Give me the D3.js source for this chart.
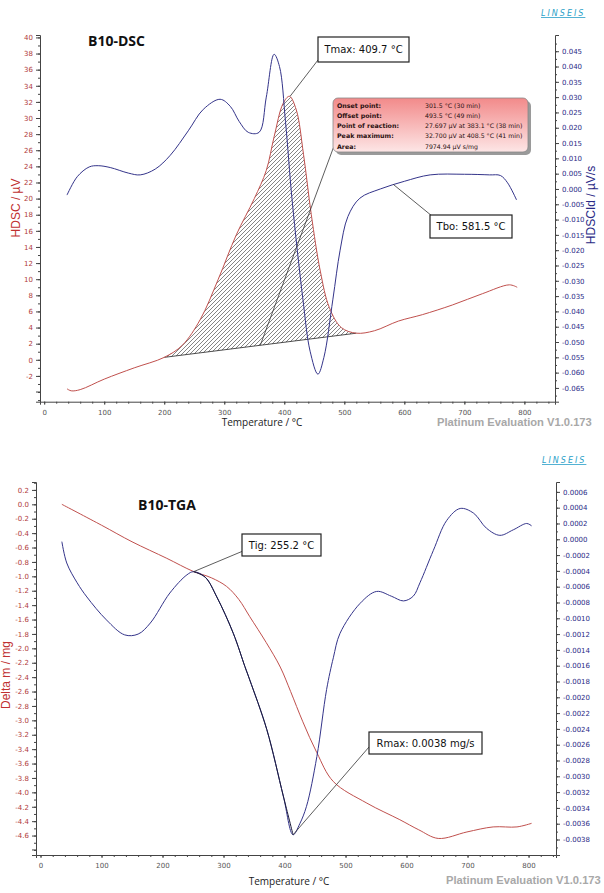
<!DOCTYPE html>
<html>
<head>
<meta charset="utf-8">
<script src="https://cdn.jsdelivr.net/npm/d3@7"></script>
<style>
  body { margin: 0; background: #fff; }
  svg text { font-family: "DejaVu Sans", sans-serif; }
</style>
</head>
<body>
<svg id="chart" width="604" height="893"></svg>
<script>
// ---- DSC panel data ----
const dscRedT = [38, 45, 60, 100, 150, 200, 230, 260, 290, 320, 350, 370, 383.1, 398, 408.5, 420, 432, 445, 460, 475, 495, 520, 550, 590, 630, 680, 730, 775, 788];
const dscRedV = [-3.6, -3.85, -3.7, -2.4, -1.0, 0.3, 1.8, 5.0, 10.0, 15.5, 20.0, 23.5, 27.7, 31.8, 32.7, 31.0, 25.5, 18.0, 11.0, 6.5, 4.0, 3.3, 3.6, 4.8, 5.6, 6.8, 8.2, 9.3, 9.0];
const dscBlueT = [38, 55, 75, 90, 110, 140, 160, 185, 210, 240, 265, 293, 310, 325, 340, 358, 370, 383, 392, 402, 413, 431, 443, 456, 466, 481, 493, 506, 526, 560, 600, 643, 700, 742, 760, 772, 787];
const dscBlueV = [-0.002, 0.004, 0.0072, 0.0076, 0.007, 0.0052, 0.0046, 0.0065, 0.011, 0.019, 0.026, 0.0293, 0.027, 0.022, 0.0185, 0.0185, 0.030, 0.044, 0.040, 0.022, -0.0036, -0.036, -0.053, -0.0605, -0.055, -0.036, -0.020, -0.009, -0.003, 0.0, 0.0025, 0.0046, 0.0048, 0.0046, 0.0044, 0.002, -0.0036];
const dscBaselineT = [200, 520];
const dscLeftTicks = [-2, 0, 2, 4, 6, 8, 10, 12, 14, 16, 18, 20, 22, 24, 26, 28, 30, 32, 34, 36, 38, 40];
const dscRightTicks = [-0.065, -0.060, -0.055, -0.050, -0.045, -0.040, -0.035, -0.030, -0.025, -0.020, -0.015, -0.010, -0.005, 0.000, 0.005, 0.010, 0.015, 0.020, 0.025, 0.030, 0.035, 0.040, 0.045];
const dscInfoLabels = ["Onset point:", "Offset point:", "Point of reaction:", "Peak maximum:", "Area:"];
const dscInfoValues = ["301.5 °C (30 min)", "493.5 °C (49 min)", "27.697 µV at 383.1 °C (38 min)", "32.700 µV at 408.5 °C (41 min)", "7974.94 µV s/mg"];
const tmax = 409.7, tbo = 581.5;

// ---- TGA panel data ----
const tgaRedT = [35, 100, 150, 207, 250, 280, 305, 325, 343, 370, 393, 410, 430, 453, 480, 535, 589, 620, 652, 699, 742, 781, 805];
const tgaRedV = [0.0, -0.29, -0.52, -0.75, -0.93, -1.02, -1.14, -1.32, -1.56, -1.92, -2.26, -2.6, -3.02, -3.45, -3.85, -4.15, -4.38, -4.52, -4.64, -4.55, -4.48, -4.48, -4.43];
const tgaBlueT = [35, 43, 60, 76, 108, 138, 160, 180, 212, 240, 251, 270, 289, 316, 335, 343, 371, 398, 414, 425, 436, 453, 469, 480, 491, 524, 551, 575, 595, 611, 622, 644, 666, 688, 710, 731, 753, 775, 797, 805];
const tgaBlueV = [-0.00003, -0.0003, -0.00055, -0.00073, -0.00102, -0.00121, -0.0012, -0.00106, -0.00068, -0.00045, -0.00041, -0.00048, -0.00073, -0.00119, -0.00161, -0.00178, -0.00241, -0.00325, -0.00374, -0.0036, -0.00338, -0.00275, -0.0019, -0.0015, -0.00119, -0.00081, -0.00066, -0.00072, -0.00078, -0.00072, -0.00055, -0.00014, 0.00024, 0.00039, 0.00033, 0.00014, 0.00005, 0.00012, 0.0002, 0.00017];
const tgaLeftTicks = [0.2, 0.0, -0.2, -0.4, -0.6, -0.8, -1.0, -1.2, -1.4, -1.6, -1.8, -2.0, -2.2, -2.4, -2.6, -2.8, -3.0, -3.2, -3.4, -3.6, -3.8, -4.0, -4.2, -4.4, -4.6];
const tgaRightTicks = [0.0006, 0.0004, 0.0002, 0.0000, -0.0002, -0.0004, -0.0006, -0.0008, -0.0010, -0.0012, -0.0014, -0.0016, -0.0018, -0.0020, -0.0022, -0.0024, -0.0026, -0.0028, -0.0030, -0.0032, -0.0034, -0.0036, -0.0038];
const tig = 255.2, rmaxT = 414, rmaxLabel = "Rmax: 0.0038 mg/s";

const xTicks = [0, 100, 200, 300, 400, 500, 600, 700, 800];

const svg = d3.select("#chart");
const navy = "#34348a";

const defs = svg.append("defs");
defs.append("pattern")
  .attr("id", "hatch")
  .attr("patternUnits", "userSpaceOnUse")
  .attr("width", 4).attr("height", 4)
  .append("path")
  .attr("d", "M-1,1 l2,-2 M0,4 l4,-4 M3,5 l2,-2")
  .attr("stroke", "#333").attr("stroke-width", 0.6);

const grad = defs.append("linearGradient").attr("id", "infoGrad")
  .attr("x1", 0).attr("y1", 0).attr("x2", 0).attr("y2", 1);
grad.append("stop").attr("offset", "0%").attr("stop-color", "#f28a8a");
grad.append("stop").attr("offset", "100%").attr("stop-color", "#fde6e6");

function zip(ts, vs) { return ts.map((t, i) => ({ t: t, v: vs[i] })); }

// draws the frame of one panel: left axis, right axis, bottom axis
function drawFrame(g, x, yL, yR, o) {
  const bottom = yL.range()[0];
  // minor ticks
  g.append("g").attr("transform", "translate(" + x.range()[0] + ",0)")
    .call(d3.axisLeft(yL).tickValues(o.leftMinor).tickSize(2).tickFormat(""))
    .call(s => s.select(".domain").remove());
  g.append("g").attr("transform", "translate(" + x.range()[1] + ",0)")
    .call(d3.axisRight(yR).tickValues(o.rightMinor).tickSize(2).tickFormat(""))
    .call(s => s.select(".domain").remove());
  g.append("g").attr("transform", "translate(0," + bottom + ")")
    .call(d3.axisBottom(x).tickValues(d3.range(0, 841, 20)).tickSize(2).tickFormat(""))
    .call(s => s.select(".domain").remove());

  const left = g.append("g").attr("transform", "translate(" + x.range()[0] + ",0)")
    .call(d3.axisLeft(yL).tickValues(o.leftTicks).tickSize(4).tickPadding(3).tickFormat(o.leftFmt));
  left.selectAll("text").attr("fill", "#b03a3a").style("font-size", "7px");

  const right = g.append("g").attr("transform", "translate(" + x.range()[1] + ",0)")
    .call(d3.axisRight(yR).tickValues(o.rightTicks).tickSize(4).tickPadding(3).tickFormat(o.rightFmt));
  right.selectAll("text").attr("fill", "#2a2a86").style("font-size", "7px");

  const bot = g.append("g").attr("transform", "translate(0," + bottom + ")")
    .call(d3.axisBottom(x).tickValues(xTicks).tickSize(3).tickPadding(5));
  bot.selectAll("text").attr("fill", "#555").style("font-size", "7px");

  g.selectAll(".domain").attr("stroke", "#444");
  g.selectAll(".tick line").attr("stroke", "#444");
}

function labelBox(g, x0, y0, w, h, txt) {
  g.append("rect").attr("x", x0).attr("y", y0).attr("width", w).attr("height", h)
    .attr("fill", "#fff").attr("stroke", "#222").attr("stroke-width", 1.2);
  g.append("text").attr("x", x0 + w / 2).attr("y", y0 + h / 2 + 3.5)
    .attr("text-anchor", "middle").style("font-size", "10px").attr("fill", "#111").text(txt);
}

// ================= DSC =================
{
  const g = svg.append("g");
  const x = d3.scaleLinear().domain([-7, 851]).range([40, 555]);
  const yL = d3.scaleLinear().domain([-5.2, 40.3]).range([401.7, 35]);
  const yR = d3.scaleLinear().domain([-0.0695, 0.0503]).range([401.7, 35]);

  drawFrame(g, x, yL, yR, {
    leftTicks: dscLeftTicks, leftMinor: d3.range(-5, 41, 1),
    rightTicks: dscRightTicks, rightMinor: d3.range(-0.0675, 0.049, 0.0025),
    leftFmt: d => d, rightFmt: d => d.toFixed(3)
  });
  // unlabeled tick at -4
  g.append("line").attr("x1", 36).attr("x2", 40).attr("y1", yL(-4)).attr("y2", yL(-4)).attr("stroke", "#444");

  const red = zip(dscRedT, dscRedV);
  const blue = zip(dscBlueT, dscBlueV);

  // hatched peak area between red curve and baseline
  const b0 = red.find(d => d.t === dscBaselineT[0]);
  const b1 = red.find(d => d.t === dscBaselineT[1]);
  const base = d3.scaleLinear().domain([b0.t, b1.t]).range([b0.v, b1.v]);
  const peak = red.filter(d => d.t >= b0.t && d.t <= b1.t);
  g.append("path").datum(peak)
    .attr("d", d3.area().curve(d3.curveCatmullRom)
      .x(d => x(d.t)).y1(d => yL(d.v)).y0(d => yL(base(d.t))))
    .attr("fill", "url(#hatch)");
  g.append("line")
    .attr("x1", x(b0.t)).attr("y1", yL(b0.v)).attr("x2", x(b1.t)).attr("y2", yL(b1.v))
    .attr("stroke", "#222").attr("stroke-width", 0.8);

  g.append("path").datum(red)
    .attr("d", d3.line().curve(d3.curveCatmullRom).x(d => x(d.t)).y(d => yL(d.v)))
    .attr("fill", "none").attr("stroke", "#c0504d").attr("stroke-width", 1);
  g.append("path").datum(blue)
    .attr("d", d3.line().curve(d3.curveCatmullRom).x(d => x(d.t)).y(d => yR(d.v)))
    .attr("fill", "none").attr("stroke", navy).attr("stroke-width", 1);

  g.append("text").attr("x", 88).attr("y", 46).style("font-family", "'Open Sans'")
    .style("font-size", "14px").style("font-weight", "bold").attr("fill", "#111").text("B10-DSC");

  // Tmax label
  g.append("line").attr("x1", 318).attr("y1", 60).attr("x2", x(tmax)).attr("y2", yL(32.7))
    .attr("stroke", "#333").attr("stroke-width", 0.8);
  labelBox(g, 318, 37, 91, 25, "Tmax: 409.7 °C");

  // info box leader
  g.append("line").attr("x1", 334).attr("y1", 146).attr("x2", x(360)).attr("y2", yL(base(360)))
    .attr("stroke", "#333").attr("stroke-width", 0.8);
  g.append("rect").attr("x", 336).attr("y", 101).attr("width", 195).attr("height", 54).attr("rx", 5)
    .attr("fill", "#9a9a9a");
  g.append("rect").attr("x", 333).attr("y", 98).attr("width", 195).attr("height", 54).attr("rx", 5)
    .attr("fill", "url(#infoGrad)").attr("stroke", "#888").attr("stroke-width", 0.8);
  dscInfoLabels.forEach((s, i) => {
    g.append("text").attr("x", 337).attr("y", 107.5 + i * 10.3)
      .style("font-size", "6.3px").style("font-weight", "bold").attr("fill", "#2a1010").text(s);
    g.append("text").attr("x", 425).attr("y", 107.5 + i * 10.3)
      .style("font-size", "6.2px").attr("fill", "#2a1010").text(dscInfoValues[i]);
  });

  // Tbo label
  g.append("line").attr("x1", 432).attr("y1", 216).attr("x2", x(tbo)).attr("y2", yR(0.0015))
    .attr("stroke", "#333").attr("stroke-width", 0.8);
  labelBox(g, 430, 215, 82, 23, "Tbo: 581.5 °C");

  g.append("text").attr("transform", "translate(20,208) rotate(-90)").attr("text-anchor", "middle")
    .style("font-family", "'Liberation Sans'").style("font-size", "12px").attr("fill", "#c03030").text("HDSC / µV");
  g.append("text").attr("transform", "translate(595,205) rotate(-90)").attr("text-anchor", "middle")
    .style("font-family", "'Liberation Sans'").style("font-size", "12px").attr("fill", "#2a2a86").text("HDSCId / µV/s");
  g.append("text").attr("x", 262).attr("y", 426).attr("text-anchor", "middle")
    .style("font-family", "'Open Sans'").style("font-size", "10px").attr("fill", "#222").text("Temperature / °C");
  g.append("text").attr("x", 437).attr("y", 426)
    .style("font-family", "'Liberation Sans'").style("font-size", "11.2px").style("font-weight", "bold")
    .attr("fill", "#a8a8a8").text("Platinum Evaluation V1.0.173");
  g.append("text").attr("x", 541).attr("y", 16).style("font-size", "8px").style("font-style", "italic")
    .style("letter-spacing", "2px").style("text-decoration", "underline").attr("fill", "#2a9fc8").text("LINSEIS");
}

// ================= TGA =================
{
  const g = svg.append("g");
  const x = d3.scaleLinear().domain([-7.4, 845]).range([36, 556]);
  const yL = d3.scaleLinear().domain([-4.87, 0.31]).range([855, 482]);
  const yR = d3.scaleLinear().domain([-0.003996, 0.000725]).range([855, 482]);

  drawFrame(g, x, yL, yR, {
    leftTicks: tgaLeftTicks, leftMinor: d3.range(-4.8, 0.31, 0.1),
    rightTicks: tgaRightTicks, rightMinor: d3.range(-0.0039, 0.0007, 0.0001),
    leftFmt: d => d.toFixed(1), rightFmt: d => d.toFixed(4)
  });
  g.append("line").attr("x1", 32).attr("x2", 36).attr("y1", yL(-4.8)).attr("y2", yL(-4.8)).attr("stroke", "#444");

  const red = zip(tgaRedT, tgaRedV);
  const blue = zip(tgaBlueT, tgaBlueV);

  g.append("path").datum(red)
    .attr("d", d3.line().curve(d3.curveCatmullRom).x(d => x(d.t)).y(d => yL(d.v)))
    .attr("fill", "none").attr("stroke", "#c0504d").attr("stroke-width", 1);
  g.append("path").datum(blue)
    .attr("d", d3.line().curve(d3.curveCatmullRom).x(d => x(d.t)).y(d => yR(d.v)))
    .attr("fill", "none").attr("stroke", navy).attr("stroke-width", 1);
  // segment between ignition and max rate drawn darker
  g.append("path").datum(blue.filter(d => d.t >= 251 && d.t <= rmaxT))
    .attr("d", d3.line().curve(d3.curveCatmullRom).x(d => x(d.t)).y(d => yR(d.v)))
    .attr("fill", "none").attr("stroke", "#1a1a3a").attr("stroke-width", 1);

  g.append("text").attr("x", 138).attr("y", 510).style("font-family", "'Open Sans'")
    .style("font-size", "14px").style("font-weight", "bold").attr("fill", "#111").text("B10-TGA");

  const tigPt = blue.find(d => d.t === 251);
  g.append("line").attr("x1", 243).attr("y1", 551).attr("x2", x(tigPt.t)).attr("y2", yR(tigPt.v))
    .attr("stroke", "#333").attr("stroke-width", 0.8);
  labelBox(g, 242, 534, 79, 22, "Tig: 255.2 °C");

  const rPt = blue.find(d => d.t === rmaxT);
  g.append("line").attr("x1", 369).attr("y1", 747).attr("x2", x(rPt.t)).attr("y2", yR(rPt.v))
    .attr("stroke", "#333").attr("stroke-width", 0.8);
  labelBox(g, 369, 732, 113, 22, rmaxLabel);

  g.append("text").attr("transform", "translate(10,675) rotate(-90)").attr("text-anchor", "middle")
    .style("font-family", "'Liberation Sans'").style("font-size", "12px").attr("fill", "#c03030").text("Delta m / mg");
  g.append("text").attr("x", 289).attr("y", 885).attr("text-anchor", "middle")
    .style("font-family", "'Open Sans'").style("font-size", "10px").attr("fill", "#222").text("Temperature / °C");
  g.append("text").attr("x", 446).attr("y", 884)
    .style("font-family", "'Liberation Sans'").style("font-size", "11.2px").style("font-weight", "bold")
    .attr("fill", "#a8a8a8").text("Platinum Evaluation V1.0.173");
  g.append("text").attr("x", 542).attr("y", 463).style("font-size", "8px").style("font-style", "italic")
    .style("letter-spacing", "2px").style("text-decoration", "underline").attr("fill", "#2a9fc8").text("LINSEIS");
}
</script>
</body>
</html>
